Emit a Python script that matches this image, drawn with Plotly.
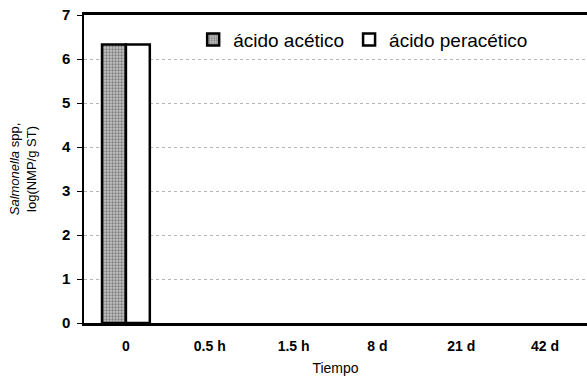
import plotly.graph_objects as go

categories = ["0", "0.5 h", "1.5 h", "8 d", "21 d", "42 d"]
acetico = [6.33, 0, 0, 0, 0, 0]
peracetico = [6.33, 0, 0, 0, 0, 0]
y_ticks = [0, 1, 2, 3, 4, 5, 6, 7]

FONT = "Liberation Sans, Arial, sans-serif"
outline = [2.5 if v > 0 else 0 for v in acetico]
outline2 = [2.5 if v > 0 else 0 for v in peracetico]

fig = go.Figure()
fig.add_trace(go.Bar(
    x=categories, y=acetico, name="ácido acético",
    marker=dict(
        color="#b0b0b0",
        line=dict(color="black", width=outline),
        pattern=dict(shape=".", fgcolor="#333333", bgcolor="#c4c4c4", size=3, solidity=0.45),
    ),
))
fig.add_trace(go.Bar(
    x=categories, y=peracetico, name="ácido peracético",
    marker=dict(color="white", line=dict(color="black", width=outline2)),
))

fig.update_layout(
    width=587, height=378,
    margin=dict(l=84, r=0, t=15, b=55),
    paper_bgcolor="white", plot_bgcolor="white",
    barmode="group", bargap=0.43, bargroupgap=0,
    font=dict(family=FONT, color="black"),
    showlegend=True,
    legend=dict(
        orientation="h", x=0.555, xanchor="center", y=0.92, yanchor="middle",
        font=dict(size=19, family=FONT), bgcolor="rgba(0,0,0,0)",
        itemwidth=30, tracegroupgap=0,
    ),
    xaxis=dict(
        showline=True, linecolor="black", linewidth=2.5, mirror=True,
        ticks="", tickfont=dict(size=14, family=FONT, weight="bold"),
        ticklabelstandoff=8,
        title=dict(text="Tiempo", font=dict(size=14, family=FONT), standoff=11),
        showgrid=False,
    ),
    yaxis=dict(
        range=[0, 7], tickvals=y_ticks, showline=True, linecolor="black", linewidth=1.5,
        ticks="outside", ticklen=5, tickcolor="black",
        tickfont=dict(size=15, family=FONT, weight="bold"),
        ticklabelstandoff=4,
        showgrid=True, gridcolor="#b5b5b5", griddash="dot", gridwidth=1,
        zeroline=False,
        title=dict(text="<i>Salmonella</i> spp,<br>log(NMP/g ST)", font=dict(size=13, family=FONT), standoff=22),
    ),
)

fig.write_html("out.html")
